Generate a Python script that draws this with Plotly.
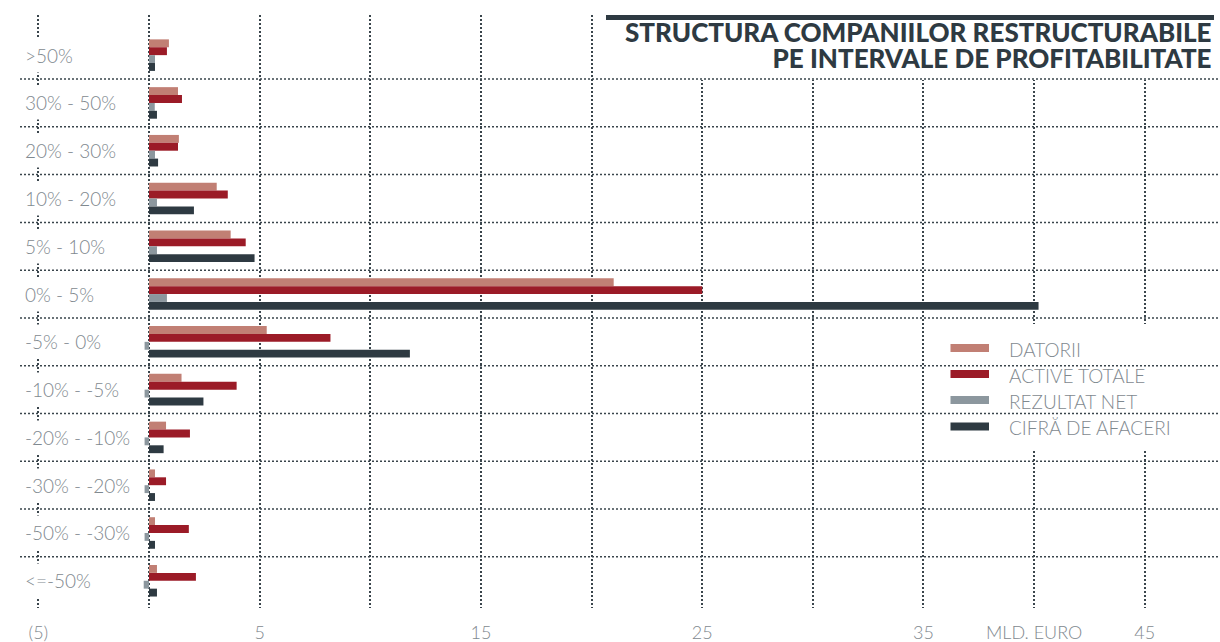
import plotly.graph_objects as go

categories = [">50%", "30% - 50%", "20% - 30%", "10% - 20%", "5% - 10%", "0% - 5%",
              "-5% - 0%", "-10% - -5%", "-20% - -10%", "-30% - -20%", "-50% - -30%", "<=-50%"]
series_names = ["DATORII", "ACTIVE TOTALE", "REZULTAT NET", "CIFRĂ DE AFACERI"]
datorii = [0.90, 1.31, 1.35, 3.06, 3.69, 21.0, 5.32, 1.47, 0.77, 0.27, 0.27, 0.36]
active_totale = [0.81, 1.49, 1.31, 3.56, 4.37, 25.0, 8.20, 3.96, 1.85, 0.77, 1.80, 2.12]
rezultat_net = [0.27, 0.26, 0.27, 0.36, 0.36, 0.81, -0.20, -0.20, -0.20, -0.20, -0.20, -0.24]
cifra_afaceri = [0.27, 0.36, 0.41, 2.03, 4.77, 40.2, 11.79, 2.46, 0.66, 0.27, 0.27, 0.36]
x_tickvals = [-5, 0, 5, 10, 15, 20, 25, 30, 35, 40, 45]
x_ticktext = ["(5)", "", "5", "", "15", "", "25", "", "35", "MLD. EURO", "45"]
title_lines = ["STRUCTURA COMPANIILOR RESTRUCTURABILE", "PE INTERVALE DE PROFITABILITATE"]

colors = ["#c17f74", "#9b1b27", "#8c979e", "#2e3a42"]
series = [datorii, active_totale, rezultat_net, cifra_afaceri]

W, H = 1220, 642
ML, MR, MT, MB = 20, 0, 15, 34
PW, PH = W - ML - MR, H - MT - MB
GRID = "#3a454c"
GRAY = "#7f898f"
DARK = "#2e3a42"

def px_x(p):
    return (p - ML) / PW

def px_y(p):
    return (H - MB - p) / PH

fig = go.Figure()
for name, vals, col in zip(series_names, series, colors):
    fig.add_trace(go.Bar(y=categories, x=vals, name=name, orientation="h",
                         marker=dict(color=col, line=dict(width=0)), showlegend=False))

shapes = []
# white cover behind title
shapes.append(dict(type="rect", xref="paper", yref="paper", x0=px_x(600), x1=px_x(1222),
                   y0=px_y(80), y1=px_y(-2), fillcolor="white", line=dict(width=0), layer="above"))
# white cover behind legend
shapes.append(dict(type="rect", xref="paper", yref="paper", x0=px_x(934), x1=px_x(1222),
                   y0=px_y(449), y1=px_y(324), fillcolor="white", line=dict(width=0), layer="above"))
# horizontal separators between categories
for i in range(len(categories) - 1):
    shapes.append(dict(type="line", xref="paper", yref="y", x0=0, x1=1, y0=i + 0.5, y1=i + 0.5,
                       line=dict(color=GRID, width=1.5, dash="2px,2px"), layer="above"))
# title rule
shapes.append(dict(type="rect", xref="paper", yref="paper", x0=px_x(606), x1=px_x(1214),
                   y0=px_y(20), y1=px_y(15), fillcolor=DARK, line=dict(width=0), layer="above"))

annotations = []
for c in categories:
    annotations.append(dict(x=0, xref="paper", y=c, yref="y", text=c, showarrow=False,
                            xanchor="left", yanchor="middle", bgcolor="white", borderpad=5, xshift=-1,
                            font=dict(family="Lato", size=19, color=GRAY, weight=300)))
title_text = "<br>".join("<span style='font-size:26px'>%s</span>" % t for t in title_lines)
annotations.append(dict(x=px_x(1214), xref="paper", y=px_y(45), yref="paper", text=title_text,
                        showarrow=False, xanchor="right", yanchor="middle", align="right",
                        font=dict(family="Lato", size=20, color=DARK, weight=900)))
# legend
leg_y = [348, 374, 400, 426.5]
for name, col, yy in zip(series_names, colors, leg_y):
    shapes.append(dict(type="rect", xref="paper", yref="paper", x0=px_x(950.5), x1=px_x(989),
                       y0=px_y(yy + 4), y1=px_y(yy - 4), fillcolor=col, line=dict(width=0), layer="above"))
    annotations.append(dict(x=px_x(1007), xref="paper", y=px_y(yy + 1), yref="paper", text=name,
                            showarrow=False, xanchor="left", yanchor="middle",
                            font=dict(family="Lato", size=19, color=GRAY, weight=300)))

fig.update_layout(
    width=W, height=H, margin=dict(l=ML, r=MR, t=MT, b=MB),
    paper_bgcolor="white", plot_bgcolor="white",
    barmode="group", bargap=0.34, bargroupgap=0,
    font=dict(family="Lato", color=GRAY),
    shapes=shapes, annotations=annotations, showlegend=False,
    xaxis=dict(range=[-5.83, 48.4], tickmode="array", tickvals=x_tickvals, ticktext=x_ticktext,
               showgrid=True, gridcolor=GRID, gridwidth=1.5, griddash="2px,2px", zeroline=False,
               showline=False, ticks="", ticklabelstandoff=12,
               tickfont=dict(family="Lato", size=18, color=GRAY, weight=300)),
    yaxis=dict(type="category", range=[11.57, -0.84], showgrid=False, zeroline=False,
               showline=False, showticklabels=False, ticks=""),
)

fig.write_html("out.html")
